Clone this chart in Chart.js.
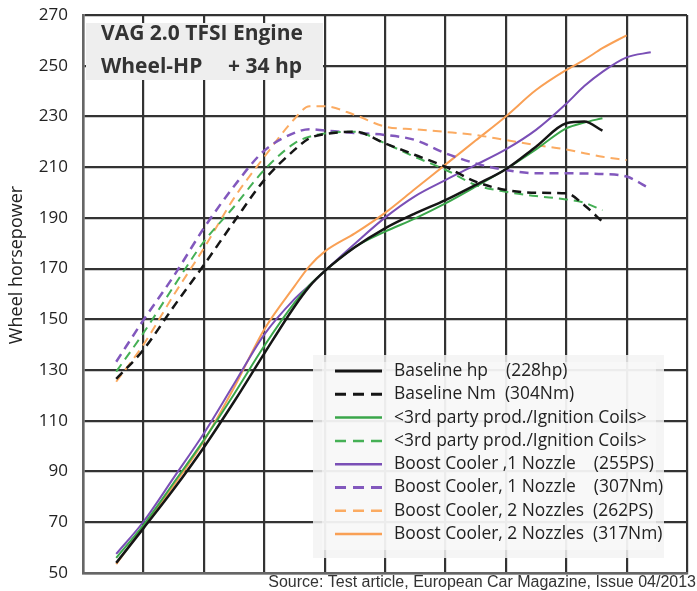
<!DOCTYPE html>
<html>
<head>
<meta charset="utf-8">
<script src="https://cdn.jsdelivr.net/npm/chart.js"></script>
<style>
  body { margin: 0; background: #fff; }
  #wrap { width: 697px; height: 591px; position: relative; }
</style>
</head>
<body>
<div id="wrap"><canvas id="hpChart"></canvas></div>
<script>
// engine speed position (grid columns, unlabeled in the source)
const xs = [0.55, 1, 1.5, 2, 2.5, 3, 3.5, 3.75, 4, 4.5, 5, 5.5, 6, 6.5, 7, 7.5, 8, 8.3, 8.6, 9, 9.4];

// wheel horsepower curves
const baseHp = [54, 67.6, 83, 99.5, 117.5, 136.5, 155, 163, 169, 178.4, 185.9, 191.8, 197, 203, 209.2, 218.1, 227.3, 228, 224.4, null, null];
const baseNm = [126.5, 138, 155, 171.4, 188.5, 204.9, 216.8, 221.4, 223, 224, 219.4, 214.8, 210.2, 204.3, 201, 199.9, 199.7, 195, 188.5, null, null];
const coilHp = [56, 68.9, 85.5, 102.4, 120.5, 139.5, 156.5, 163.5, 169, 178.5, 184.6, 189.8, 195.7, 202.3, 209.2, 217, 225.3, 227.6, 229.3, null, null];
const coilNm = [129.4, 144.6, 162.9, 180.6, 194.4, 208.9, 219.4, 222, 223.3, 224, 219.4, 214, 209, 203, 200.3, 198.6, 197.3, 196, 193, null, null];
const bc1Hp = [57.5, 70.2, 87.5, 105, 124.5, 144, 158, 163.5, 169, 179.8, 190.1, 198.6, 204.9, 210.9, 217, 224.7, 235, 242, 247.6, 253.3, 255.3];
const bc1Nm = [133.3, 149.7, 167, 185.9, 202.5, 216.5, 223.5, 225, 224.5, 223.5, 222.7, 220.7, 215.5, 211.5, 208.9, 207.6, 207.6, 207.5, 207.3, 206.3, 201.3];
const bc2Nm = [125.4, 140, 159.5, 178, 197.8, 214, 229, 234, 234, 230.6, 226, 224.9, 223.9, 222.7, 220.7, 218.7, 217, 215.5, 214.1, 212.8, null];
const bc2Hp = [53.5, 68.2, 84.5, 102, 123, 146, 163, 171, 176.7, 183.9, 192, 201.5, 211, 220.5, 230, 240.4, 248.3, 252.3, 256.9, 262, null];

const yTicks = [50, 70, 90, 110, 130, 150, 170, 190, 210, 230, 250, 270];

const labels = [
    'Baseline hp    (228hp)',
    'Baseline Nm  (304Nm)',
    '<3rd party prod./Ignition Coils>',
    '<3rd party prod./Ignition Coils>',
    'Boost Cooler ,1 Nozzle    (255PS)',
    'Boost Cooler, 1 Nozzle    (307Nm)',
    'Boost Cooler, 2 Nozzles  (262PS)',
    'Boost Cooler, 2 Nozzles  (317Nm)'
];

function pts(arr) {
    const out = [];
    arr.forEach(function(v, i) { if (v !== null) out.push({ x: xs[i], y: v }); });
    return out;
}

function series(label, arr, color, width, dashed) {
    return {
        label: label,
        data: pts(arr),
        borderColor: color,
        borderWidth: width,
        borderDash: dashed ? [9, 6] : [],
        pointRadius: 0,
        fill: false,
        cubicInterpolationMode: 'monotone'
    };
}

// legend box + title box + axis title + source line
const overlay = {
    id: 'overlay',
    afterDraw(chart) {
        const ctx = chart.ctx;
        ctx.save();

        // title box
        ctx.fillStyle = '#eeeeee';
        ctx.fillRect(86, 23, 237, 57);
        ctx.fillStyle = '#333';
        ctx.font = 'bold 21px "Open Sans"';
        ctx.textBaseline = 'middle';
        ctx.textAlign = 'left';
        ctx.fillText('VAG 2.0 TFSI Engine', 101, 34);
        ctx.fillText('Wheel-HP', 101, 67);
        ctx.fillText('+ 34 hp', 228, 67);

        // legend box
        ctx.fillStyle = 'rgba(243,243,243,0.85)';
        ctx.fillRect(313, 355, 351, 203);
        ctx.fillStyle = 'rgba(250,250,250,0.6)';
        ctx.fillRect(322, 362, 334, 188);
        chart.data.datasets.forEach(function(ds, i) {
            const y = 371 + i * 23.3;
            ctx.strokeStyle = ds.borderColor;
            ctx.lineWidth = ds.borderWidth + 0.5;
            ctx.setLineDash(ds.borderDash.length ? [11, 7] : []);
            ctx.beginPath();
            ctx.moveTo(335, y);
            ctx.lineTo(382, y);
            ctx.stroke();
            ctx.setLineDash([]);
            ctx.fillStyle = '#222';
            ctx.font = '17.4px "Open Sans"';
            ctx.fillText(ds.label, 394, y);
        });

        // y axis title
        ctx.translate(17, 265);
        ctx.rotate(-Math.PI / 2);
        ctx.textAlign = 'center';
        ctx.fillStyle = '#222';
        ctx.font = '18px "Open Sans"';
        ctx.fillText('Wheel horsepower', 0, 0);
        ctx.setTransform(1, 0, 0, 1, 0, 0);

        // source
        ctx.textAlign = 'right';
        ctx.fillStyle = '#333';
        ctx.font = '16px "Liberation Sans"';
        ctx.fillText('Source: Test article, European Car Magazine, Issue 04/2013', 696, 583);
        ctx.restore();
    }
};

document.addEventListener('DOMContentLoaded', function() {
    const datasets = [
        series(labels[0], baseHp, '#151515', 2.5, false),
        series(labels[1], baseNm, '#151515', 2.5, true),
        series(labels[2], coilHp, '#3aa64a', 2, false),
        series(labels[3], coilNm, '#45b055', 2, true),
        series(labels[4], bc1Hp, '#7a4fb6', 2, false),
        series(labels[5], bc1Nm, '#8258bd', 2.5, true),
        series(labels[6], bc2Nm, '#fbab62', 2, true),
        series(labels[7], bc2Hp, '#f9a055', 2, false)
    ];

    new Chart(document.getElementById('hpChart'), {
        type: 'line',
        data: { datasets: datasets },
        options: {
            responsive: true,
            maintainAspectRatio: false,
            animation: false,
            layout: { padding: { left: 0, top: 15, right: 10, bottom: 0 } },
            plugins: {
                legend: { display: false },
                tooltip: { enabled: false }
            },
            scales: {
                x: {
                    type: 'linear',
                    min: 0,
                    max: 10,
                    ticks: { display: false, stepSize: 1 },
                    grid: { color: '#333', lineWidth: 2.2, drawTicks: false },
                    border: { color: '#666', width: 2.5 },
                    afterFit: function(scale) {
                        scale.height = 18;
                        scale.paddingLeft = 0;
                        scale.paddingRight = 0;
                    }
                },
                y: {
                    min: 50,
                    max: 270,
                    afterBuildTicks: function(scale) {
                        scale.ticks = yTicks.map(function(v) { return { value: v }; });
                    },
                    ticks: {
                        color: '#222',
                        padding: 15,
                        font: { family: 'Open Sans', size: 17 }
                    },
                    grid: { color: '#333', lineWidth: 2.2, drawTicks: false },
                    border: { color: '#666', width: 2.5 },
                    afterFit: function(scale) {
                        scale.width = 83;
                        scale.paddingTop = 0;
                        scale.paddingBottom = 0;
                    }
                }
            }
        },
        plugins: [overlay]
    });
});
</script>
</body>
</html>
